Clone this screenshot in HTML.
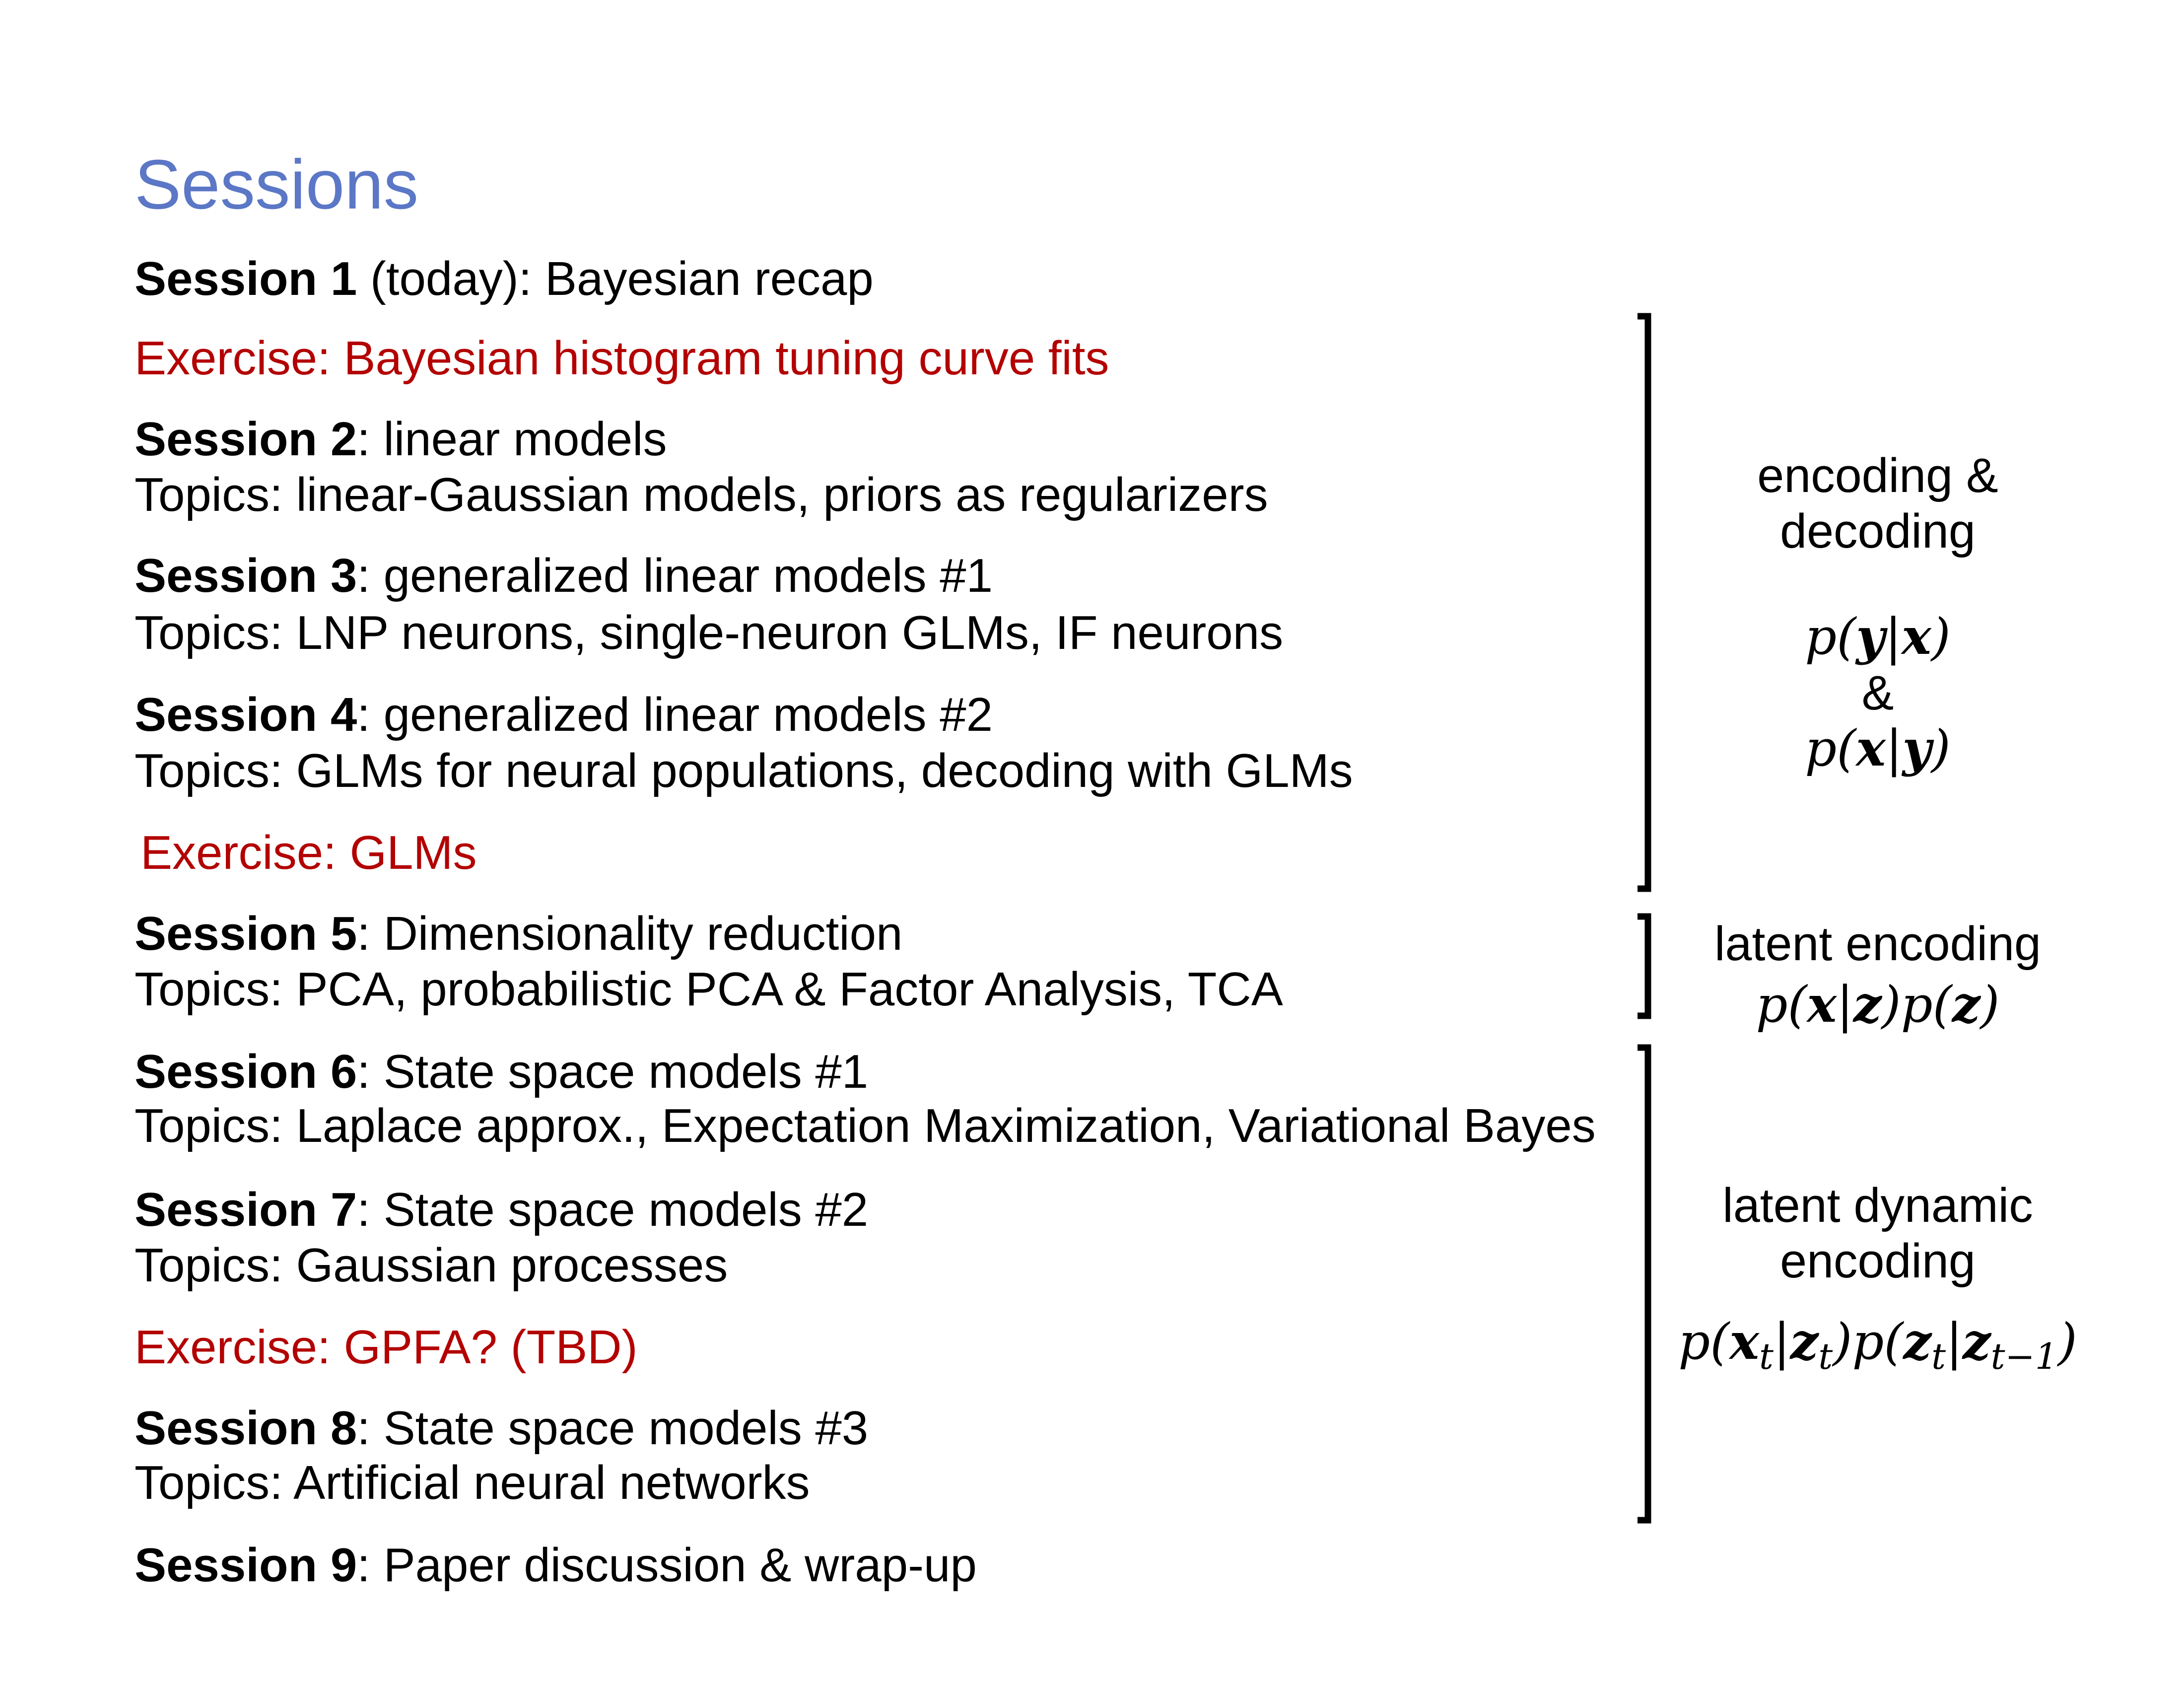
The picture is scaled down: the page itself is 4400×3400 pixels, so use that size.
<!DOCTYPE html>
<html><head><meta charset="utf-8">
<style>
html,body{margin:0;padding:0;background:#fff;}
#c{position:relative;width:4400px;height:3400px;overflow:hidden;font-family:"Liberation Sans",Arial,sans-serif;color:#000;}
.t{position:absolute;left:271px;font-size:96px;line-height:96px;white-space:nowrap;}
.r{color:#b30000;}
.c{position:absolute;left:3283px;width:1000px;text-align:center;font-size:97px;line-height:97px;white-space:nowrap;}
.m{font-family:"DejaVu Serif","Liberation Serif",serif;font-style:italic;font-size:100px;line-height:100px;}
.m b{font-weight:bold;}
sub{font-size:72%;vertical-align:-0.28em;line-height:0;}
</style></head><body><div id="c">
<div class="t" style="top:301px;font-size:141px;line-height:141px;color:#5b77c6;">Sessions</div>
<div class="t" style="top:514px"><b>Session 1</b> (today): Bayesian recap</div>
<div class="t r" style="top:674px">Exercise: Bayesian histogram tuning curve fits</div>
<div class="t" style="top:837px"><b>Session 2</b>: linear models</div>
<div class="t" style="top:949px">Topics: linear-Gaussian models, priors as regularizers</div>
<div class="t" style="top:1112px"><b>Session 3</b>: generalized linear models #1</div>
<div class="t" style="top:1227px">Topics: LNP neurons, single-neuron GLMs, IF neurons</div>
<div class="t" style="top:1392px"><b>Session 4</b>: generalized linear models #2</div>
<div class="t" style="top:1505px">Topics: GLMs for neural populations, decoding with GLMs</div>
<div class="t r" style="top:1670px;left:283px">Exercise: GLMs</div>
<div class="t" style="top:1833px"><b>Session 5</b>: Dimensionality reduction</div>
<div class="t" style="top:1945px">Topics: PCA, probabilistic PCA &amp; Factor Analysis, TCA</div>
<div class="t" style="top:2111px"><b>Session 6</b>: State space models #1</div>
<div class="t" style="top:2220px">Topics: Laplace approx., Expectation Maximization, Variational Bayes</div>
<div class="t" style="top:2389px"><b>Session 7</b>: State space models #2</div>
<div class="t" style="top:2501px">Topics: Gaussian processes</div>
<div class="t r" style="top:2666px">Exercise: GPFA? (TBD)</div>
<div class="t" style="top:2829px"><b>Session 8</b>: State space models #3</div>
<div class="t" style="top:2939px">Topics: Artificial neural networks</div>
<div class="t" style="top:3105px"><b>Session 9</b>: Paper discussion &amp; wrap-up</div>

<svg style="position:absolute;left:0;top:0" width="4400" height="3400">
<g fill="none" stroke="#000" stroke-width="13">
<polyline points="3299,637 3320,637 3320,1790 3299,1790"/>
<polyline points="3299,1846 3320,1846 3320,2046 3299,2046"/>
<polyline points="3299,2110 3320,2110 3320,3062 3299,3062"/>
</g></svg>

<div class="c" style="top:909px">encoding &amp;</div>
<div class="c" style="top:1021px">decoding</div>
<div class="c m" style="top:1232px">p(<b>y</b>|<b>x</b>)</div>
<div class="c" style="top:1347px">&amp;</div>
<div class="c m" style="top:1457px">p(<b>x</b>|<b>y</b>)</div>
<div class="c" style="top:1852px">latent encoding</div>
<div class="c m" style="top:1973px">p(<b>x</b>|<b>z</b>)p(<b>z</b>)</div>
<div class="c" style="top:2379px">latent dynamic</div>
<div class="c" style="top:2491px">encoding</div>
<div class="c m" style="top:2652px">p(<b>x</b><sub>t</sub>|<b>z</b><sub>t</sub>)p(<b>z</b><sub>t</sub>|<b>z</b><sub>t−1</sub>)</div>
</div></body></html>
